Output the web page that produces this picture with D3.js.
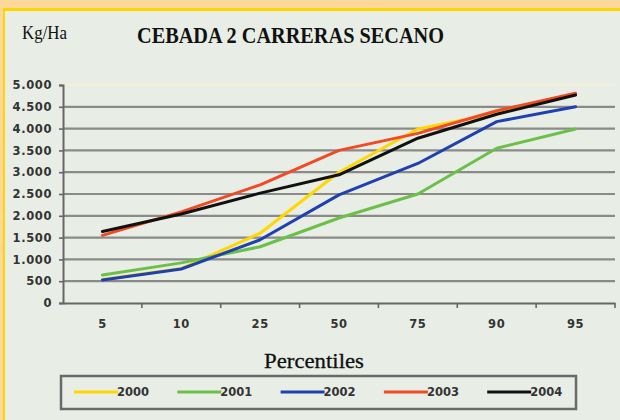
<!DOCTYPE html>
<meta charset="utf-8">
<title>Cebada 2 carreras secano</title>
<style>
  body { margin: 0; }
  svg { display: block; }
</style>
<body>
<script src="https://d3js.org/d3.v7.min.js"></script>
<script>

// percentiles on the x axis
let percentiles = ["5", "10", "25", "50", "75", "90", "95"];
let years = ["2000", "2001", "2002", "2003", "2004"];
let colors = ["#ffd700", "#6cc04a", "#2140b0", "#f04a26", "#111111"];

// Kg/Ha for each year
let y2000 = [540, 790, 1600, 3000, 3990, 4350, 4790];
let y2001 = [640, 920, 1290, 1950, 2500, 3550, 3990];
let y2002 = [530, 780, 1450, 2480, 3200, 4160, 4500];
let y2003 = [1550, 2090, 2710, 3500, 3890, 4410, 4810];
let y2004 = [1640, 2040, 2520, 2940, 3780, 4330, 4770];
let series = [y2000, y2001, y2002, y2003, y2004];

let yTicks = d3.range(0, 5001, 500);

let W = 620, H = 420;
let plot = { left: 63, right: 615, top: 85, bottom: 303 };
let sans = '"DejaVu Sans", Arial, sans-serif';
let serif = '"Liberation Serif", serif';

let svg = d3.select('body').append('svg')
    .attr('width', W)
    .attr('height', H);

// frame: orange strip on top, yellow rule, light panel
svg.append('rect').attr('width', W).attr('height', H).attr('fill', '#fed89a');
svg.append('rect').attr('x', 3).attr('y', 8).attr('width', W).attr('height', H)
    .attr('fill', '#ffd400');
svg.append('rect').attr('x', 5).attr('y', 11).attr('width', W).attr('height', H)
    .attr('fill', '#e8eee6');

svg.append('text')
    .attr('x', 22).attr('y', 39)
    .attr('textLength', 45).attr('lengthAdjust', 'spacingAndGlyphs')
    .style('font-family', serif)
    .style('font-size', '19px')
    .attr('fill', '#111')
    .text('Kg/Ha');

svg.append('text')
    .attr('x', 137).attr('y', 43)
    .attr('textLength', 307).attr('lengthAdjust', 'spacingAndGlyphs')
    .style('font-family', serif)
    .style('font-size', '24px')
    .style('font-weight', 'bold')
    .attr('fill', '#111')
    .text('CEBADA 2 CARRERAS SECANO');

let x = d3.scaleBand().domain(percentiles).range([plot.left, plot.right]);
let y = d3.scaleLinear().domain([0, 5000]).range([plot.bottom, plot.top]);

let fmt = d => d === 0 ? '0' : d3.format(',')(d).replace(/,/g, '.');

// grid lines
svg.append('g').selectAll('line')
    .data(yTicks.filter(d => d > 0))
    .join('line')
        .attr('x1', plot.left).attr('x2', plot.right)
        .attr('y1', d => y(d)).attr('y2', d => y(d))
        .attr('stroke', d => d === 5000 ? '#f3efd8' : '#8a8a88')
        .attr('stroke-width', 2.2);

let yAxis = svg.append('g')
    .attr('transform', `translate(${plot.left},0)`)
    .call(d3.axisLeft(y).tickValues(yTicks).tickFormat(fmt).tickSize(4).tickPadding(7));

let xAxis = svg.append('g')
    .attr('transform', `translate(0,${plot.bottom})`)
    .call(d3.axisBottom(x).tickSize(0).tickPadding(17));

// x ticks sit on the band edges
svg.append('g').selectAll('line')
    .data(percentiles.slice(1).concat(['end']))
    .join('line')
        .attr('x1', d => d === 'end' ? plot.right : x(d))
        .attr('x2', d => d === 'end' ? plot.right : x(d))
        .attr('y1', plot.bottom).attr('y2', plot.bottom + 5)
        .attr('stroke', '#666').attr('stroke-width', 1.6);

[yAxis, xAxis].forEach(a => {
    a.select('.domain').attr('stroke', '#666').attr('stroke-width', 2);
    a.selectAll('.tick line').attr('stroke', '#666').attr('stroke-width', 1.6);
    a.selectAll('text')
        .attr('fill', '#333')
        .style('font-family', sans)
        .style('font-size', '11.5px')
        .style('font-weight', 'bold')
        .style('letter-spacing', '0.6px');
});

let line = d3.line()
    .x((d, i) => x(percentiles[i]) + x.bandwidth() / 2)
    .y(d => y(d));

svg.append('g').selectAll('path')
    .data(series)
    .join('path')
        .attr('d', line)
        .attr('fill', 'none')
        .attr('stroke', (d, i) => colors[i])
        .attr('stroke-width', 3)
        .attr('stroke-linejoin', 'round')
        .attr('stroke-linecap', 'round');

svg.append('text')
    .attr('x', 264).attr('y', 368)
    .attr('textLength', 100).attr('lengthAdjust', 'spacingAndGlyphs')
    .style('font-family', serif)
    .style('font-size', '21px')
    .attr('fill', '#111')
    .attr('stroke', '#111').attr('stroke-width', 0.3)
    .text('Percentiles');

// legend
let legend = svg.append('g');
legend.append('rect')
    .attr('x', 61).attr('y', 376).attr('width', 515).attr('height', 33)
    .attr('fill', 'none')
    .attr('stroke', '#6a6a6a').attr('stroke-width', 2.5);

let item = legend.selectAll('g.item')
    .data(years)
    .join('g')
        .attr('class', 'item')
        .attr('transform', (d, i) => `translate(${74 + i * 103.3},392)`);

item.append('line')
    .attr('x1', 0).attr('x2', 44)
    .attr('stroke', (d, i) => colors[i])
    .attr('stroke-width', 3);

item.append('text')
    .attr('x', 43).attr('dy', '0.35em')
    .attr('fill', '#333')
    .style('font-family', sans)
    .style('font-size', '11.5px')
    .style('font-weight', 'bold')
    .text(d => d);

</script>
</body>
